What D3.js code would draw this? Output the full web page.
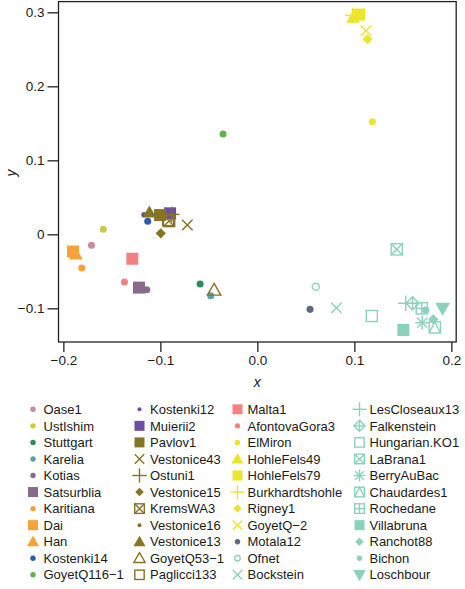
<!DOCTYPE html>
<html><head><meta charset="utf-8">
<script src="https://cdn.jsdelivr.net/npm/d3@7"></script>
<style>body{margin:0;background:#fff}svg{display:block}</style>
</head><body>
<svg id="c" width="465" height="589"></svg>
<script>
// ---- data ----
const samples = ["Oase1","UstIshim","Stuttgart","Karelia","Kotias","Satsurblia","Karitiana","Dai","Han","Kostenki14","GoyetQ116\u22121",
 "Kostenki12","Muierii2","Pavlov1","Vestonice43","Ostuni1","Vestonice15","KremsWA3","Vestonice16","Vestonice13","GoyetQ53\u22121","Paglicci133",
 "Malta1","AfontovaGora3","ElMiron","HohleFels49","HohleFels79","Burkhardtshohle","Rigney1","GoyetQ\u22122","Motala12","Ofnet","Bockstein",
 "LesCloseaux13","Falkenstein","Hungarian.KO1","LaBrana1","BerryAuBac","Chaudardes1","Rochedane","Villabruna","Ranchot88","Bichon","Loschbour"];
const xValues = [-0.171,-0.1588,-0.059,-0.048,-0.114,-0.122,-0.181,-0.190,-0.187,-0.113,-0.0354,
 -0.117,-0.090,-0.1003,-0.0722,-0.0883,-0.0996,-0.091,-0.095,-0.1113,-0.0446,-0.092,
 -0.1289,-0.137,0.1186,0.0987,0.105,0.098,0.1135,0.112,0.0543,0.0602,0.0815,
 0.153,0.160,0.118,0.1437,0.170,0.183,0.1695,0.1505,0.1814,0.1736,0.191];
const yValues = [-0.0149,0.0068,-0.067,-0.083,-0.0749,-0.072,-0.0455,-0.0232,-0.027,0.0176,0.1355,
 0.0265,0.0284,0.026,0.0126,0.027,0.0014,0.018,0.025,0.0297,-0.0753,0.0193,
 -0.033,-0.0645,0.152,0.293,0.297,0.296,0.2635,0.275,-0.1014,-0.0708,-0.0992,
 -0.0932,-0.0932,-0.1104,-0.0203,-0.1195,-0.1257,-0.1,-0.1293,-0.1149,-0.1023,-0.1];
const xTicks = [-0.2,-0.1,0.0,0.1,0.2];
const xTickLabels = ["\u22120.2","\u22120.1","0.0","0.1","0.2"];
const yTicks = [-0.1,0,0.1,0.2,0.3];
const yTickLabels = ["\u22120.1","0","0.1","0.2","0.3"];

// ---- styles ----
const C = {rose:"#c98a9c", ygreen:"#c9cc3c", green:"#2b8a5e", teal:"#5ea3a3", mauve:"#876a8c", orange:"#f6a236",
  blue:"#2f5aa6", lgreen:"#62b24c", purple:"#6b4fa0", olive:"#857326", salmon:"#f28282", yellow:"#ebe52c", slate:"#5c6b80", mint:"#8bd2bc"};
const colors = [C.rose,C.ygreen,C.green,C.teal,C.mauve,C.mauve,C.orange,C.orange,C.orange,C.blue,C.lgreen,
 C.purple,C.purple,C.olive,C.olive,C.olive,C.olive,C.olive,C.olive,C.olive,C.olive,C.olive,
 C.salmon,C.salmon,C.yellow,C.yellow,C.yellow,C.yellow,C.yellow,C.yellow,C.slate,C.mint,C.mint,
 C.mint,C.mint,C.mint,C.mint,C.mint,C.mint,C.mint,C.mint,C.mint,C.mint,C.mint];
const shapes = ["dot","dot","dot","dot","dot","sq","dot","sq","tri","dot","dot",
 "sdot","sq","sq","x","plus","dia","boxX","sdot","tri","oTri","oSq",
 "sq","dot","dot","tri","sq","plus","dia","x","dot","oCirc","x",
 "plus","diaPlus","oSq","boxX","ast","boxTri","boxPlus","sq","dia","dot","triDown"];

const svg = d3.select("#c");
const x = d3.scaleLinear().domain([-0.205,0.205]).range([58.5,456.2]);
const y = d3.scaleLinear().domain([-0.1455,0.3145]).range([342,1.6]);

function sym(g, shape, cx, cy, s, col){
  const h = s/2, lw = 1.4;
  const line = (x1,y1,x2,y2)=>g.append("line").attr("x1",x1).attr("y1",y1).attr("x2",x2).attr("y2",y2).attr("stroke",col).attr("stroke-width",lw);
  const poly = (pts, fill)=>g.append("path").attr("d","M"+pts.map(p=>p.join(",")).join("L")+"Z")
      .attr("fill",fill?col:"none").attr("stroke",fill?"none":col).attr("stroke-width",lw);
  const triPts = (hh)=>{const t=hh*1.15; return [[cx,cy-t],[cx+t,cy+t*0.75],[cx-t,cy+t*0.75]];};
  switch(shape){
    case "dot": g.append("circle").attr("cx",cx).attr("cy",cy).attr("r",s*0.27).attr("fill",col); break;
    case "sdot": g.append("circle").attr("cx",cx).attr("cy",cy).attr("r",s*0.2).attr("fill",col); break;
    case "oCirc": g.append("circle").attr("cx",cx).attr("cy",cy).attr("r",s*0.25).attr("fill","none").attr("stroke",col).attr("stroke-width",lw); break;
    case "sq": g.append("rect").attr("x",cx-h).attr("y",cy-h).attr("width",s).attr("height",s).attr("fill",col); break;
    case "oSq": g.append("rect").attr("x",cx-h*0.85).attr("y",cy-h*0.85).attr("width",s*0.85).attr("height",s*0.85).attr("fill","none").attr("stroke",col).attr("stroke-width",lw); break;
    case "tri": poly(triPts(h),true); break;
    case "oTri": poly(triPts(h*0.9),false); break;
    case "triDown": {const t=h*1.15; poly([[cx,cy+t],[cx+t,cy-t*0.75],[cx-t,cy-t*0.75]],true); break;}
    case "dia": {const d=h*0.85; poly([[cx,cy-d],[cx+d,cy],[cx,cy+d],[cx-d,cy]],true); break;}
    case "diaPlus": {const d=h*1.0; poly([[cx,cy-d],[cx+d,cy],[cx,cy+d],[cx-d,cy]],false); line(cx-d,cy,cx+d,cy); line(cx,cy-d,cx,cy+d); break;}
    case "plus": {const d=h*1.1; line(cx-d,cy,cx+d,cy); line(cx,cy-d,cx,cy+d); break;}
    case "x": {const d=h*0.75; line(cx-d,cy-d,cx+d,cy+d); line(cx-d,cy+d,cx+d,cy-d); break;}
    case "ast": {const d=h*1.0, e=h*0.72; line(cx-d,cy,cx+d,cy); line(cx,cy-d,cx,cy+d); line(cx-e,cy-e,cx+e,cy+e); line(cx-e,cy+e,cx+e,cy-e); break;}
    case "boxX": {const d=h*0.8; g.append("rect").attr("x",cx-d).attr("y",cy-d).attr("width",2*d).attr("height",2*d).attr("fill","none").attr("stroke",col).attr("stroke-width",lw);
      line(cx-d,cy-d,cx+d,cy+d); line(cx-d,cy+d,cx+d,cy-d); break;}
    case "boxPlus": {const d=h*0.8; g.append("rect").attr("x",cx-d).attr("y",cy-d).attr("width",2*d).attr("height",2*d).attr("fill","none").attr("stroke",col).attr("stroke-width",lw);
      line(cx,cy-d,cx,cy+d); line(cx-d,cy,cx+d,cy); break;}
    case "boxTri": {const d=h*0.8; g.append("rect").attr("x",cx-d).attr("y",cy-d).attr("width",2*d).attr("height",2*d).attr("fill","none").attr("stroke",col).attr("stroke-width",lw);
      g.append("path").attr("d",`M${cx-d},${cy+d}L${cx},${cy-d}L${cx+d},${cy+d}`).attr("fill","none").attr("stroke",col).attr("stroke-width",lw); break;}
  }
}

// ---- axes ----
const axCol = "#222";
svg.append("rect").attr("x",58.5).attr("y",1.6).attr("width",456.2-58.5).attr("height",342-1.6)
  .attr("fill","none").attr("stroke",axCol).attr("stroke-width",1.3);
const xAxis = d3.axisBottom(x).tickValues(xTicks).tickSize(10).tickPadding(3).tickFormat((d,i)=>xTickLabels[i]);
const gx = svg.append("g").attr("transform","translate(0,342)").call(xAxis);
gx.select(".domain").remove();
const yAxis = d3.axisLeft(y).tickValues(yTicks).tickSize(11).tickPadding(3).tickFormat((d,i)=>yTickLabels[i]);
const gy = svg.append("g").attr("transform","translate(58.5,0)").call(yAxis);
gy.select(".domain").remove();
svg.selectAll(".tick line").attr("stroke",axCol).attr("stroke-width",1.3);
svg.selectAll(".tick text").attr("fill","#1a1a1a").style("font-family","Liberation Sans, Arial, sans-serif").style("font-size","13.5px");
svg.append("text").attr("x",257.3).attr("y",387).attr("text-anchor","middle").style("font-family","Liberation Sans, Arial, sans-serif")
  .style("font-size","14px").style("font-style","italic").attr("fill","#1a1a1a").text("x");
svg.append("text").attr("transform","translate(16,173) rotate(-90)").attr("text-anchor","middle").style("font-family","Liberation Sans, Arial, sans-serif")
  .style("font-size","14px").style("font-style","italic").attr("fill","#1a1a1a").text("y");

// ---- points ----
const pts = svg.append("g");
samples.forEach((n,i)=>{
  const big = {sq:12, tri:12, triDown:13, dia:12, x:14, plus:14, oTri:13, oSq:13, boxX:14, boxPlus:14, boxTri:14, ast:14, diaPlus:13, dot:13, sdot:13, oCirc:14}[shapes[i]];
  sym(pts, shapes[i], x(xValues[i]), y(yValues[i]), big, colors[i]);
});

// ---- legend ----
const leg = svg.append("g");
const colSym = [33, 139.5, 237.5, 359.5], colTxt = [43.5, 150, 247.5, 369.5];
const perCol = [11, 11, 11, 11];
let idx = 0;
for (let c=0;c<4;c++){
  for (let r=0;r<perCol[c];r++,idx++){
    const cy = 409.3 + r*16.55;
    const ls = {sq:10, tri:10.5, triDown:11, dia:10, x:12.5, plus:13, oTri:11, oSq:11, boxX:12, boxPlus:12, boxTri:12, ast:12, diaPlus:11, dot:10, sdot:10, oCirc:11}[shapes[idx]];
    sym(leg, shapes[idx], colSym[c], cy, ls, colors[idx]);
    leg.append("text").attr("x",colTxt[c]).attr("y",cy).attr("dy","0.36em")
      .style("font-family","Liberation Sans, Arial, sans-serif").style("font-size","13px").attr("fill","#1a1a1a").text(samples[idx]);
  }
}
</script>
</body></html>
